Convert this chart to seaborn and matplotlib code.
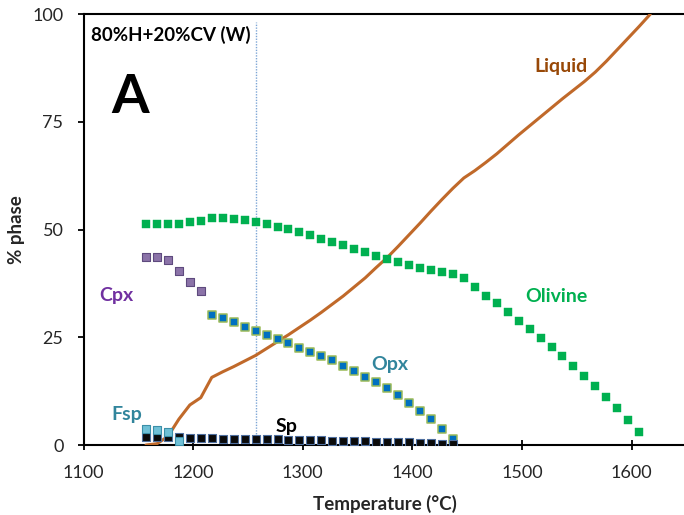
import numpy as np
import pandas as pd
import matplotlib
matplotlib.use("Agg")
import matplotlib.pyplot as plt
import seaborn as sns

# ---- data ----
temps = [1157 + 10 * i for i in range(47)]

liquid_T = temps
liquid = [0.0, 0.3, 2.0, 6.0, 9.3, 11.0, 15.7, 17.0, 18.2, 19.5,
          20.8, 22.4, 24.0, 25.6, 27.3, 29.0, 30.8, 32.7, 34.6, 36.7,
          38.8, 41.2, 43.5, 46.1, 48.8, 51.5, 54.3, 57.0, 59.6, 62.0,
          63.7, 65.6, 67.6, 69.8, 72.0, 74.1, 76.2, 78.3, 80.4, 82.4,
          84.4, 86.6, 89.1, 91.8, 94.5, 97.2, 100.0]

olivine_T = temps[:46]
olivine = [51.2, 51.2, 51.2, 51.3, 51.7, 52.0, 52.8, 52.6, 52.4, 52.2,
           51.8, 51.3, 50.7, 50.1, 49.5, 48.7, 47.9, 47.1, 46.4, 45.6,
           44.7, 44.0, 43.3, 42.6, 41.9, 41.2, 40.6, 40.1, 39.7, 38.7,
           36.7, 34.7, 32.9, 30.9, 28.9, 26.9, 24.9, 22.8, 20.7, 18.4,
           16.1, 13.7, 11.2, 8.6, 5.7, 3.0]

cpx_T = temps[:6]
cpx = [43.7, 43.7, 43.0, 40.5, 37.9, 35.8]

opx_T = temps[6:29]
opx = [30.3, 29.6, 28.6, 27.4, 26.5, 25.5, 24.5, 23.7, 22.6, 21.7,
       20.7, 19.7, 18.4, 17.3, 15.9, 14.7, 13.2, 11.5, 9.8, 7.9,
       6.0, 3.8, 1.3]

fsp_T = temps[:4]
fsp = [3.7, 3.6, 3.0, 0.9]

sp_T = temps[:29]
sp = [1.8, 1.8, 1.8, 1.8, 1.7, 1.7, 1.6, 1.5, 1.5, 1.4,
      1.4, 1.3, 1.3, 1.2, 1.2, 1.1, 1.1, 1.0, 1.0, 0.9,
      0.9, 0.8, 0.7, 0.6, 0.6, 0.5, 0.4, 0.3, 0.2]

marker_T = 1257
x_ticks = [1100, 1200, 1300, 1400, 1500, 1600]
y_ticks = [0, 25, 50, 75, 100]

# ---- style ----
sns.set_theme(style="white")
plt.rcParams['font.family'] = ['Lato', 'DejaVu Sans']

fig = plt.figure(figsize=(6.84, 5.15), dpi=100)
ax = fig.add_axes([0.1221, 0.1359, 0.8813, 0.8363])

liq_df = pd.DataFrame({"T": liquid_T, "pct": liquid})
sns.lineplot(data=liq_df, x="T", y="pct", ax=ax, color="#C0692A", lw=2.2,
             zorder=3)

def pts(T, v, face, edge, size=42, ew=0.8, z=4):
    df = pd.DataFrame({"T": T, "pct": v})
    sns.scatterplot(data=df, x="T", y="pct", ax=ax, marker="s", s=size,
                    color=face, edgecolor=edge, linewidth=ew, zorder=z)

pts(olivine_T, olivine, "#00B050", "#00B050", size=40, ew=0.3)
pts(cpx_T, cpx, "#8B73A8", "#5E4A7E", size=34)
pts(opx_T, opx, "#0070C0", "#9BBB59", size=36, ew=1.1)
pts(sp_T, sp, "#0A0A0A", "#4F6F9F", size=34)
pts(fsp_T, fsp, "#6FC0D6", "#3B8FA8", size=36, z=5)

ax.axvline(marker_T, ymin=0, ymax=0.982, color="#7EA6D6", lw=1.0,
           ls=(0, (1, 1)), zorder=2)

ax.set_xlim(1100, 1650)
ax.set_ylim(0, 100)
ax.set_xticks(x_ticks)
ax.set_yticks(y_ticks)
ax.tick_params(axis="x", direction="inout", length=7.5, width=1.3,
               color="black", labelsize=13, pad=11, bottom=True)
ax.tick_params(axis="y", direction="out", length=4.5, width=1.3,
               color="black", labelsize=13, pad=10, left=True)
for side in ["left", "bottom", "top"]:
    ax.spines[side].set_visible(True)
    ax.spines[side].set_color("black")
    ax.spines[side].set_linewidth(1.5)
ax.spines["right"].set_visible(False)

ax.set_xlabel("Temperature (°C)", fontsize=13.5, fontweight="bold", labelpad=10)
ax.set_ylabel("% phase", fontsize=13.5, fontweight="bold")
ax.yaxis.set_label_coords(-0.097, 0.5)

ax.text(1106.6, 95.1, "80%H+20%CV (W)", fontsize=13.5, fontweight="bold",
        ha="left", va="center", color="black")
ax.text(1142.4, 80.8, "A", fontsize=39, fontweight="bold", ha="center",
        va="center", color="black")
ax.text(1535.7, 87.8, "Liquid", fontsize=14, fontweight="bold",
        color="#984807", ha="center", va="center")
ax.text(1531, 34.4, "Olivine", fontsize=14, fontweight="bold",
        color="#00B050", ha="center", va="center")
ax.text(1379.6, 18.6, "Opx", fontsize=14, fontweight="bold",
        color="#31859C", ha="center", va="center")
ax.text(1129.6, 34.6, "Cpx", fontsize=14, fontweight="bold",
        color="#7030A0", ha="center", va="center")
ax.text(1139.7, 7.2, "Fsp", fontsize=14, fontweight="bold",
        color="#31859C", ha="center", va="center")
ax.text(1284.8, 4.4, "Sp", fontsize=14, fontweight="bold",
        color="black", ha="center", va="center")

fig.savefig("out.png", dpi=100)
